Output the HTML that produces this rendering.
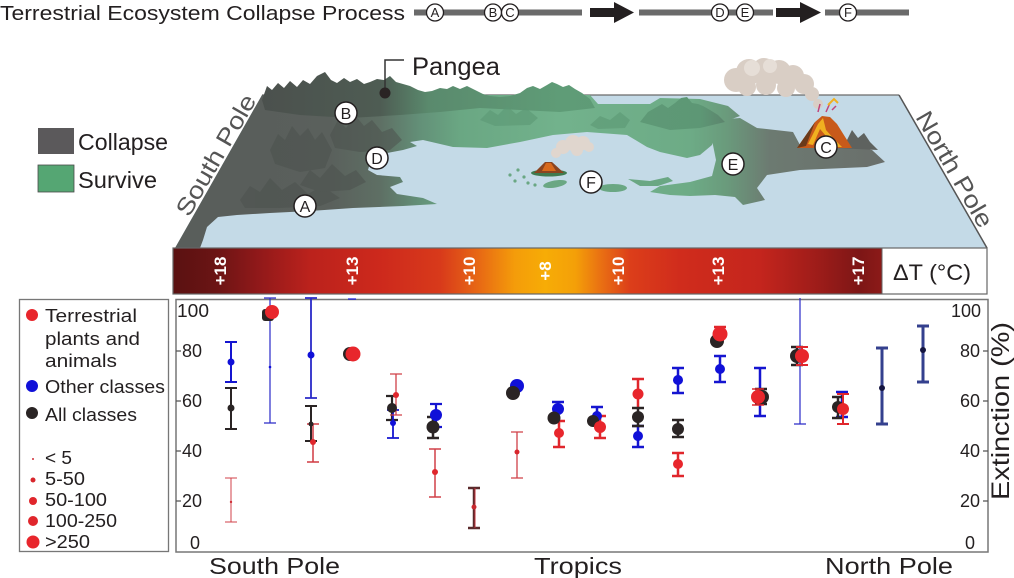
<!DOCTYPE html>
<html><head><meta charset="utf-8"><style>
html,body{margin:0;padding:0;background:#fff;}
svg{display:block;}
text{font-family:"Liberation Sans",sans-serif;fill:#231f20;}
</style></head><body>
<svg width="1014" height="578" viewBox="0 0 1014 578" xmlns="http://www.w3.org/2000/svg">
<defs>
<linearGradient id="landg" gradientUnits="userSpaceOnUse" x1="258" y1="0" x2="890" y2="0">
<stop offset="0" stop-color="#595e5b"/><stop offset="0.114" stop-color="#5a605c"/>
<stop offset="0.193" stop-color="#5e6f64"/><stop offset="0.256" stop-color="#639078"/>
<stop offset="0.32" stop-color="#6aa783"/><stop offset="0.478" stop-color="#72b28c"/>
<stop offset="0.684" stop-color="#6dab86"/><stop offset="0.74" stop-color="#6a9b7c"/>
<stop offset="0.81" stop-color="#6c7a71"/><stop offset="1" stop-color="#6a6e6b"/>
</linearGradient>
<linearGradient id="mtng" gradientUnits="userSpaceOnUse" x1="258" y1="0" x2="890" y2="0">
<stop offset="0" stop-color="#4b504d"/><stop offset="0.193" stop-color="#4e5c53"/>
<stop offset="0.27" stop-color="#5a8a6d"/><stop offset="0.478" stop-color="#5f9c77"/>
<stop offset="0.7" stop-color="#5d9775"/><stop offset="0.81" stop-color="#5c635f"/>
<stop offset="1" stop-color="#5a5e5b"/>
</linearGradient>
<linearGradient id="tg" gradientUnits="userSpaceOnUse" x1="173" y1="0" x2="882" y2="0">
<stop offset="0" stop-color="#5a1111"/><stop offset="0.059" stop-color="#6a1414"/>
<stop offset="0.123" stop-color="#92191a"/><stop offset="0.193" stop-color="#bb221c"/>
<stop offset="0.292" stop-color="#cd291c"/><stop offset="0.377" stop-color="#d83a1b"/>
<stop offset="0.433" stop-color="#e86a14"/><stop offset="0.482" stop-color="#f49c0a"/>
<stop offset="0.525" stop-color="#f7ac06"/><stop offset="0.567" stop-color="#f4a008"/>
<stop offset="0.602" stop-color="#ea7212"/><stop offset="0.645" stop-color="#dc3e1a"/>
<stop offset="0.715" stop-color="#d02c1c"/><stop offset="0.828" stop-color="#c4251d"/>
<stop offset="0.912" stop-color="#9c1c19"/><stop offset="0.969" stop-color="#7d1616"/>
<stop offset="1" stop-color="#8c1a18"/>
</linearGradient>
</defs>

<!-- Title & process -->
<text x="0" y="20" font-size="20" textLength="405" lengthAdjust="spacingAndGlyphs">Terrestrial Ecosystem Collapse Process</text>
<rect x="414" y="9.5" width="168" height="6" fill="#6a6a6a"/>
<rect x="639" y="9.5" width="134" height="6" fill="#6a6a6a"/>
<rect x="825" y="9.5" width="84" height="6" fill="#6a6a6a"/>
<path d="M590,8 H614 V2 L634,12.5 L614,23 V17 H590 Z" fill="#231f20"/>
<path d="M776,8 H800 V2 L821,12.5 L800,23 V17 H776 Z" fill="#231f20"/>
<g fill="#fff" stroke="#231f20" stroke-width="1.3">
<circle cx="435" cy="12.5" r="8.5"/><circle cx="493" cy="12.5" r="8.5"/><circle cx="510" cy="12.5" r="8.5"/>
<circle cx="720" cy="12.5" r="8.5"/><circle cx="745" cy="12.5" r="8.5"/><circle cx="848" cy="12.5" r="8.5"/>
</g>
<g font-size="13" text-anchor="middle">
<text x="435" y="17">A</text><text x="493" y="17">B</text><text x="510" y="17">C</text>
<text x="720" y="17">D</text><text x="745" y="17">E</text><text x="848" y="17">F</text>
</g>

<!-- Map legend -->
<rect x="38" y="128" width="36" height="26" fill="#5b595b"/>
<rect x="38" y="165" width="36" height="27" fill="#55a673" stroke="#4a4a4a" stroke-width="0.8"/>
<text x="78" y="150" font-size="23" textLength="90" lengthAdjust="spacingAndGlyphs">Collapse</text>
<text x="78" y="188" font-size="23" textLength="79" lengthAdjust="spacingAndGlyphs">Survive</text>

<!-- Map -->
<path d="M262,95 L899,95 L987,248 L175,248 Z" fill="#c4dae7"/>
<path d="M262,95 H899" stroke="#6a6a6a" stroke-width="1.2"/>
<path d="M899,95 L987,248" stroke="#555" stroke-width="1.5"/>

<!-- Smoke C -->
<g fill="#d9cec5">
<circle cx="736" cy="80" r="12"/><circle cx="749" cy="72" r="13"/><circle cx="764" cy="70" r="12"/>
<circle cx="779" cy="72" r="12"/><circle cx="793" cy="76" r="11"/><circle cx="804" cy="84" r="10"/>
<circle cx="812" cy="94" r="7"/><circle cx="818" cy="104" r="5"/><circle cx="747" cy="87" r="9"/>
<circle cx="766" cy="85" r="10"/><circle cx="786" cy="88" r="9"/>
</g>
<g fill="#e6ded7"><circle cx="752" cy="68" r="8"/><circle cx="770" cy="66" r="7"/></g>

<!-- Land main -->
<path fill="url(#landg)" d="M262,95 L590,95 L598,104 L650,104 L660,98 L700,99 L728,106 L740,116 L718,124 L712,145 L700,155 L687,158 L660,152 L647,147 L627,135 L587,132 L553,135 L520,142 L487,148 L453,147 L423,140 L410,142 L417,146 L403,150 L387,153 L370,163 L368,170 L377,175 L400,177 L403,182 L390,187 L397,194 L423,198 L437,204 L403,206 L353,208 L310,211 L270,213 L237,215 L218,217 L207,227 L203,240 L200,248 L175,248 Z"/>
<path fill="url(#landg)" d="M716,120 L740,118 L757,128 L793,132 L800,145 L850,145 L872,150 L885,162 L867,167 L800,170 L767,175 L757,188 L765,200 L743,205 L735,197 L715,195 L690,196 L670,195 L650,192 L660,186 L690,182 L712,176 L716,160 L712,140 Z"/>
<!-- islands -->
<g fill="#6aa783">
<ellipse cx="555" cy="184" rx="12" ry="3.5" transform="rotate(-10 555 184)"/>
<ellipse cx="613" cy="188" rx="14" ry="4"/>
<path d="M628,179 L650,181 L668,177 L673,181 L658,186 L640,186 Z"/>
<circle cx="510" cy="175" r="1.6"/><circle cx="515" cy="181" r="1.6"/><circle cx="518" cy="170" r="1.6"/>
<circle cx="524" cy="177" r="1.6"/><circle cx="528" cy="183" r="1.6"/><circle cx="535" cy="185" r="1.6"/>
</g>
<!-- mountains -->
<path fill="url(#mtng)" d="M262,100 L267,86 L272,90 L278,83 L284,88 L290,81 L297,87 L303,80 L310,84 L317,76 L325,72 L331,80 L337,83 L344,78 L350,82 L357,79 L364,84 L370,82 L377,79 L384,80 L390,76 L396,82 L403,84 L410,86 L418,90 L425,92 L432,91 L440,88 L447,89 L453,86 L460,89 L467,86 L475,90 L483,94 L490,96 L500,97 L510,96 L520,93 L527,88 L533,86 L540,89 L547,85 L552,82 L557,84 L563,87 L569,85 L575,89 L582,93 L590,99 L595,108 L560,112 L520,110 L480,108 L440,112 L400,115 L350,118 L300,115 L265,110 Z"/>
<path fill="url(#mtng)" d="M640,122 L648,112 L655,108 L662,104 L668,108 L675,103 L681,98 L687,97 L692,103 L698,104 L703,106 L710,110 L718,115 L725,122 L700,128 L670,130 Z"/>
<g fill="#4c524e" opacity="0.55">
<path d="M270,150 L278,134 L285,140 L292,126 L300,136 L308,128 L315,140 L322,132 L332,150 L325,168 L300,172 L275,164 Z"/>
<path d="M330,135 L338,120 L346,128 L355,115 L364,126 L372,120 L382,132 L392,128 L402,140 L390,150 L360,152 L335,148 Z"/>
<path d="M240,200 L250,186 L260,192 L270,178 L282,190 L295,182 L308,194 L322,186 L340,198 L320,206 L280,208 L245,208 Z"/>
<path d="M300,185 L310,170 L320,178 L332,164 L345,176 L356,170 L366,182 L350,190 L320,192 Z"/>
</g>
<g fill="#5c9874" opacity="0.6">
<path d="M480,120 L490,110 L498,115 L507,106 L516,114 L526,108 L538,118 L530,125 L495,126 Z"/>
<path d="M590,125 L600,116 L610,120 L620,112 L630,120 L625,128 L598,129 Z"/>
</g>
<!-- Volcano C -->
<path d="M835,148 L842,137 L847,140 L852,130 L858,138 L864,133 L870,142 L878,150 Z" fill="#5e625f"/>
<path d="M797,148 L815,122 L822,116 L830,117 L837,124 L852,148 Z" fill="#c85a1a"/>
<path d="M808,144 L818,124 L823,118 L826,130 L834,139 L842,147 L835,147 L826,136 L820,129 L813,145 Z" fill="#f0b020"/>
<path d="M797,148 L815,122 L806,146 Z" fill="#6b3a1a"/>
<path d="M818,112 L820,104 M826,112 L830,103 M832,110 L836,106" stroke="#c0447a" stroke-width="1.5"/>
<path d="M828,105 L834,99 L838,103" stroke="#f0b020" stroke-width="2" fill="none"/>
<!-- Volcano F -->
<g fill="#e0d6ce">
<circle cx="556" cy="153" r="5"/><circle cx="563" cy="147" r="7"/><circle cx="573" cy="143" r="8"/>
<circle cx="583" cy="143" r="7"/><circle cx="589" cy="147" r="5"/><circle cx="577" cy="150" r="6"/>
</g>
<ellipse cx="549" cy="173" rx="18" ry="3.5" fill="#3f7a4f"/>
<path d="M534,173 L545,162 L552,162 L564,173 Z" fill="#8a4420"/>
<path d="M546,163 L551,163 L556,171 L542,171 Z" fill="#d8691c"/>

<!-- Pangea -->
<path d="M385,93 V60 H404" stroke="#333" stroke-width="1.5" fill="none"/>
<circle cx="385" cy="93" r="5.5" fill="#2a2424"/>
<text x="412" y="75" font-size="25" textLength="88" lengthAdjust="spacingAndGlyphs">Pangea</text>

<!-- Map circles -->
<g fill="#fff" stroke="#231f20" stroke-width="1.5">
<circle cx="305" cy="206" r="11"/><circle cx="346" cy="113" r="11"/><circle cx="377" cy="158" r="11"/>
<circle cx="591" cy="182" r="11"/><circle cx="733" cy="164" r="11"/><circle cx="826" cy="147" r="11"/>
</g>
<g font-size="16" text-anchor="middle">
<text x="305" y="212">A</text><text x="346" y="119">B</text><text x="377" y="164">D</text>
<text x="591" y="188">F</text><text x="733" y="170">E</text><text x="826" y="153">C</text>
</g>

<!-- Pole labels -->
<text font-size="24" fill="#555" style="fill:#555" textLength="136" lengthAdjust="spacingAndGlyphs" transform="translate(189,218) rotate(-60)">South Pole</text>
<text font-size="24" style="fill:#555" textLength="130" lengthAdjust="spacingAndGlyphs" transform="translate(915,117) rotate(60)">North Pole</text>

<!-- Temperature bar -->
<rect x="173" y="248" width="709" height="46" fill="url(#tg)"/>
<rect x="882" y="248" width="105" height="46" fill="#fff"/>
<rect x="173" y="248" width="814" height="46" fill="none" stroke="#666" stroke-width="1.2"/>
<path d="M882,248 V294" stroke="#666" stroke-width="1"/>
<g font-size="17" font-weight="bold" text-anchor="middle" style="fill:#fff">
<text transform="translate(220,271) rotate(-90)" y="6" style="fill:#fff">+18</text>
<text transform="translate(352,271) rotate(-90)" y="6" style="fill:#fff">+13</text>
<text transform="translate(469,271) rotate(-90)" y="6" style="fill:#fff">+10</text>
<text transform="translate(545,271) rotate(-90)" y="6" style="fill:#fff">+8</text>
<text transform="translate(618,271) rotate(-90)" y="6" style="fill:#fff">+10</text>
<text transform="translate(718,271) rotate(-90)" y="6" style="fill:#fff">+13</text>
<text transform="translate(858,271) rotate(-90)" y="6" style="fill:#fff">+17</text>
</g>
<text x="893" y="280" font-size="22" textLength="78" lengthAdjust="spacingAndGlyphs">ΔT (°C)</text>

<!-- Legend box -->
<rect x="19.5" y="299.5" width="149" height="252" fill="none" stroke="#777" stroke-width="1.3"/>
<circle cx="32" cy="315" r="6" fill="#e8262c"/>
<circle cx="32" cy="386" r="6" fill="#1010d8"/>
<circle cx="32" cy="413" r="6" fill="#2a2424"/>
<g font-size="18">
<text x="45" y="322" textLength="92" lengthAdjust="spacingAndGlyphs">Terrestrial</text>
<text x="45" y="345" textLength="95" lengthAdjust="spacingAndGlyphs">plants and</text>
<text x="45" y="367" textLength="72" lengthAdjust="spacingAndGlyphs">animals</text>
<text x="45" y="393" textLength="120" lengthAdjust="spacingAndGlyphs">Other classes</text>
<text x="45" y="421" textLength="92" lengthAdjust="spacingAndGlyphs">All classes</text>
<text x="45" y="464" textLength="27" lengthAdjust="spacingAndGlyphs">&lt; 5</text>
<text x="45" y="485" textLength="40" lengthAdjust="spacingAndGlyphs">5-50</text>
<text x="45" y="506" textLength="62" lengthAdjust="spacingAndGlyphs">50-100</text>
<text x="45" y="527" textLength="72" lengthAdjust="spacingAndGlyphs">100-250</text>
<text x="45" y="548" textLength="45" lengthAdjust="spacingAndGlyphs">&gt;250</text>
</g>
<circle cx="33" cy="459" r="1" fill="#d03038"/>
<circle cx="33" cy="480" r="2.5" fill="#d8262c"/>
<circle cx="33" cy="501" r="4" fill="#e0262c"/>
<circle cx="33" cy="521" r="5" fill="#e0262c"/>
<circle cx="33" cy="542" r="6.5" fill="#e8262c"/>

<!-- Chart box & axes -->
<rect x="176" y="299.5" width="812" height="252.5" fill="none" stroke="#777" stroke-width="1.5"/>
<path d="M176,351H181M176,401H181M176,451H181M176,501H181" stroke="#555" stroke-width="1.2"/>
<path d="M983,351H988M983,401H988M983,451H988M983,501H988" stroke="#555" stroke-width="1.2"/>
<g font-size="18" style="fill:#333">
<text x="177" y="317" textLength="32" lengthAdjust="spacingAndGlyphs">100</text>
<text x="182" y="357">80</text><text x="182" y="407">60</text><text x="182" y="457">40</text><text x="182" y="507">20</text>
<text x="190" y="549">0</text>
<text x="981" y="317" text-anchor="end">100</text>
<text x="980" y="357" text-anchor="end">80</text><text x="980" y="407" text-anchor="end">60</text>
<text x="980" y="457" text-anchor="end">40</text><text x="980" y="507" text-anchor="end">20</text>
<text x="975" y="549" text-anchor="end">0</text>
</g>
<text transform="translate(1009,411) rotate(-90)" font-size="25" text-anchor="middle" textLength="178" lengthAdjust="spacingAndGlyphs">Extinction (%)</text>
<g font-size="23">
<text x="209" y="574" textLength="131" lengthAdjust="spacingAndGlyphs">South Pole</text>
<text x="534" y="574" textLength="88" lengthAdjust="spacingAndGlyphs">Tropics</text>
<text x="825" y="574" textLength="128" lengthAdjust="spacingAndGlyphs">North Pole</text>
</g>

<!-- Data -->
<g fill="none">
<!-- col1 -->
<path d="M231,342V382M225,342H237M225,382H237" stroke="#1515d0" stroke-width="2"/>
<path d="M231,388V429M225,388H237M225,429H237" stroke="#2a2424" stroke-width="2"/>
<path d="M231,478V522M225,478H237M225,522H237" stroke="#d04048" stroke-width="1"/>
<!-- col2 -->
<path d="M270,298V423M264,298H276M264,423H276" stroke="#2a2ac8" stroke-width="1.2"/>
<!-- col3 -->
<path d="M311,298V398M305,298H317M305,398H317" stroke="#2a2ac8" stroke-width="1.8"/>
<path d="M311,406V441M305,406H317M305,441H317" stroke="#2a2424" stroke-width="2"/>
<path d="M313,424V462M307,424H319M307,462H319" stroke="#d03a42" stroke-width="1.5"/>
<!-- col4 -->
<path d="M348,299H356" stroke="#1010d8" stroke-width="1.2"/>
<!-- col5 -->
<path d="M392,396V420M386,396H398M386,420H398" stroke="#2a2424" stroke-width="2.2"/>
<path d="M393,410V438M387,410H399M387,438H399" stroke="#1515d0" stroke-width="1.8"/>
<path d="M396,374V415M390,374H402M390,415H402" stroke="#d04048" stroke-width="1.3"/>
<!-- col6 -->
<path d="M433,417V438M427,417H439M427,438H439" stroke="#2a2424" stroke-width="2.5"/>
<path d="M436,404V427M430,404H442M430,427H442" stroke="#1515d0" stroke-width="2.2"/>
<path d="M435,449V497M429,449H441M429,497H441" stroke="#d04048" stroke-width="1.5"/>
<!-- col7 -->
<path d="M474,488V528M468,488H480M468,528H480" stroke="#5a2a2c" stroke-width="2.5"/>
<path d="M475,488V528" stroke="#c0303a" stroke-width="1"/>
<!-- col8 -->
<path d="M517,432V478M511,432H523M511,478H523" stroke="#d04048" stroke-width="1.3"/>
<!-- col9 -->
<path d="M558,402V415M552,402H564" stroke="#1515d0" stroke-width="2.5"/>
<path d="M559,421V447M553,421H565M553,447H565" stroke="#e0262c" stroke-width="2.5"/>
<!-- col10 -->
<path d="M597,407V420M591,407H603" stroke="#1515d0" stroke-width="2.5"/>
<path d="M600,416V438M594,416H606M594,438H606" stroke="#e0262c" stroke-width="2.5"/>
<!-- col11 -->
<path d="M638,379V408M632,379H644" stroke="#e0262c" stroke-width="2.5"/>
<path d="M638,426V447M632,426H644M632,447H644" stroke="#1515d0" stroke-width="2.5"/>
<path d="M638,408V426M632,408H644M632,426H644" stroke="#2a2424" stroke-width="2.5"/>
<!-- col12 -->
<path d="M678,368V393M672,368H684M672,393H684" stroke="#1515d0" stroke-width="2.5"/>
<path d="M678,420V437M672,420H684M672,437H684" stroke="#2a2424" stroke-width="2.5"/>
<path d="M678,453V476M672,453H684M672,476H684" stroke="#e0262c" stroke-width="2.5"/>
<!-- col13 -->
<path d="M720,356V382M714,356H726M714,382H726" stroke="#1515d0" stroke-width="2.5"/>
<path d="M714,327H726" stroke="#e0262c" stroke-width="2.5"/>
<!-- col14 -->
<path d="M760,368V416M754,368H766M754,416H766" stroke="#1515d0" stroke-width="2.5"/>
<path d="M761,389V404M755,389H767M755,404H767" stroke="#2a2424" stroke-width="2.5"/>
<path d="M758,389V405M752,389H764M752,405H764" stroke="#e0262c" stroke-width="1.5"/>
<!-- col15 -->
<path d="M800,298V424M794,424H806" stroke="#2a2ac8" stroke-width="1.2"/>
<path d="M797,347V365M791,347H803M791,365H803" stroke="#2a2424" stroke-width="2.5"/>
<path d="M802,347V365M796,347H808M796,365H808" stroke="#e0262c" stroke-width="2"/>
<!-- col16 -->
<path d="M842,392V417M836,392H848M836,417H848" stroke="#1515d0" stroke-width="2.5"/>
<path d="M838,397V418M832,397H844M832,418H844" stroke="#2a2424" stroke-width="2.5"/>
<path d="M843,394V424M837,394H849M837,424H849" stroke="#e0262c" stroke-width="2"/>
<!-- col17/18 -->
<path d="M882,348V424M876,348H888M876,424H888" stroke="#34408e" stroke-width="3"/>
<path d="M923,326V382M917,326H929M917,382H929" stroke="#34408e" stroke-width="3"/>
</g>
<g>
<circle cx="231" cy="362" r="3.5" fill="#1010d8"/>
<circle cx="231" cy="408" r="3.5" fill="#2a2424"/>
<circle cx="231" cy="502" r="1.2" fill="#d03038"/>
<circle cx="270" cy="367" r="1.3" fill="#1010d8"/>
<rect x="262" y="309" width="12" height="12" rx="3" fill="#2a2424"/>
<circle cx="272" cy="312" r="7" fill="#e8262c"/>
<circle cx="311" cy="355" r="3.5" fill="#1010d8"/>
<circle cx="311" cy="424" r="2.5" fill="#2a2424"/>
<circle cx="313" cy="442" r="3" fill="#e0262c"/>
<circle cx="350" cy="354" r="7" fill="#2a2424"/>
<circle cx="353" cy="354" r="7.5" fill="#e8262c"/>
<circle cx="392" cy="408" r="5" fill="#2a2424"/>
<circle cx="393" cy="423" r="3" fill="#1010d8"/>
<circle cx="396" cy="395" r="3" fill="#e0262c"/>
<circle cx="433" cy="427" r="6.5" fill="#2a2424"/>
<circle cx="436" cy="415" r="6" fill="#1010d8"/>
<circle cx="435" cy="472" r="3" fill="#e0262c"/>
<circle cx="474" cy="507" r="2.5" fill="#c8282e"/>
<circle cx="517" cy="452" r="2.5" fill="#d8262c"/>
<circle cx="517" cy="386" r="7" fill="#1010d8"/>
<circle cx="513" cy="393" r="7" fill="#2a2424"/>
<circle cx="558" cy="409" r="6" fill="#1010d8"/>
<circle cx="554" cy="418" r="6.5" fill="#2a2424"/>
<circle cx="559" cy="433" r="5" fill="#e8262c"/>
<circle cx="597" cy="416" r="5" fill="#1010d8"/>
<circle cx="593" cy="421" r="6" fill="#2a2424"/>
<circle cx="600" cy="427" r="6" fill="#e8262c"/>
<circle cx="638" cy="394" r="5.5" fill="#e8262c"/>
<circle cx="638" cy="436" r="5" fill="#1010d8"/>
<circle cx="638" cy="417" r="6" fill="#2a2424"/>
<circle cx="678" cy="380" r="5" fill="#1010d8"/>
<circle cx="678" cy="429" r="6" fill="#2a2424"/>
<circle cx="678" cy="464" r="5" fill="#e8262c"/>
<circle cx="720" cy="369" r="5" fill="#1010d8"/>
<circle cx="717" cy="341" r="7" fill="#2a2424"/>
<circle cx="720" cy="334" r="7.5" fill="#e8262c"/>
<circle cx="762" cy="397" r="7" fill="#2a2424"/>
<circle cx="758" cy="397" r="7" fill="#e8262c"/>
<circle cx="797" cy="356" r="7" fill="#2a2424"/>
<circle cx="802" cy="356" r="7" fill="#e8262c"/>
<circle cx="838" cy="407" r="6" fill="#2a2424"/>
<circle cx="843" cy="409" r="6" fill="#e8262c"/>
<circle cx="882" cy="388" r="3" fill="#151540"/>
<circle cx="923" cy="350" r="3" fill="#151540"/>
</g>
</svg>
</body></html>
